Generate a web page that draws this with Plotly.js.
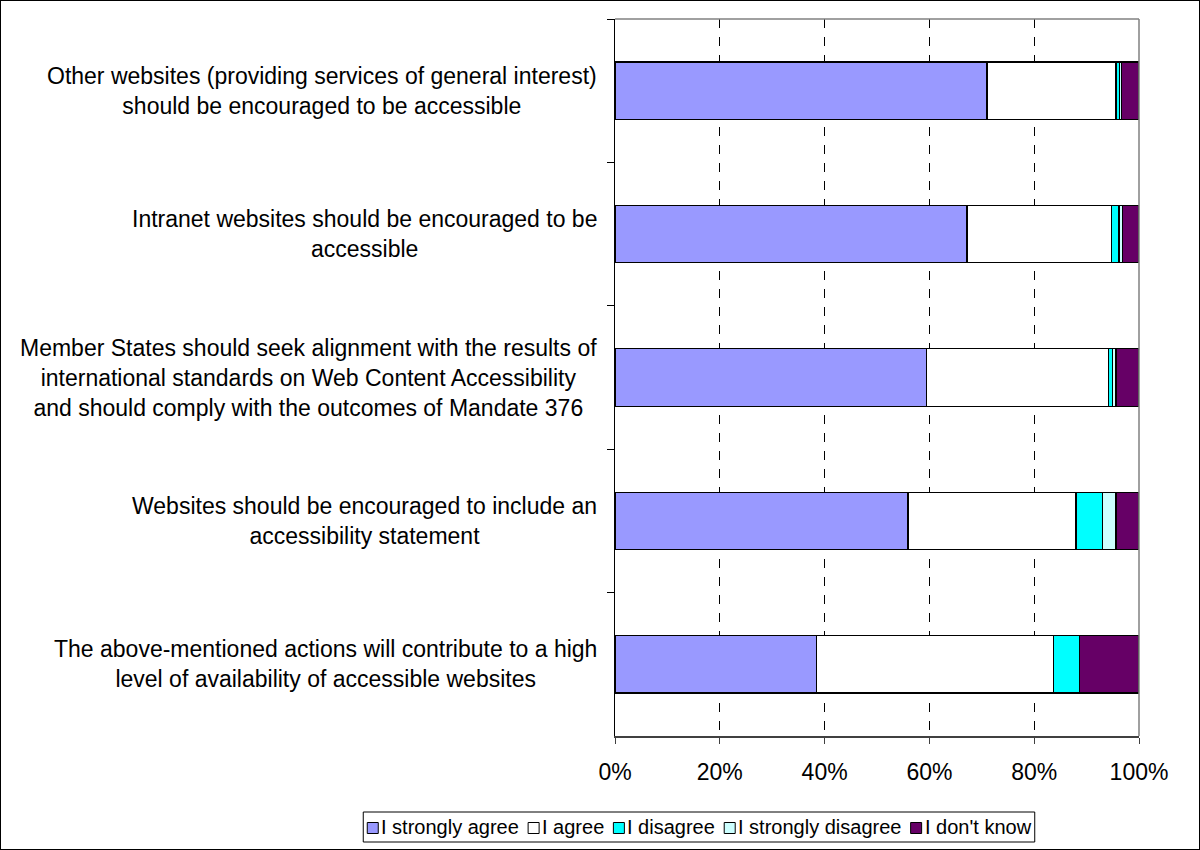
<!DOCTYPE html>
<html>
<head>
<meta charset="utf-8">
<script src="https://cdn.plot.ly/plotly-3.0.1.min.js"></script>
<style>
  html, body { margin: 0; padding: 0; background: #fff; }
  #wrap { position: relative; width: 1200px; height: 850px; }
  #chart { position: absolute; left: 0; top: 0; width: 1200px; height: 850px; }
  #frame { position: absolute; left: 0; top: 0; width: 1198px; height: 848px; border: 1px solid #000; pointer-events: none; }
</style>
</head>
<body>
<div id="wrap"><div id="chart"></div><div id="frame"></div></div>
<script>
// Categories, top to bottom as in the chart
const categories = [
  "Other websites (providing services of general interest)<br>should be encouraged to be accessible",
  "Intranet websites should be encouraged to be<br>accessible",
  "Member States should seek alignment with the results of<br>international standards on Web Content Accessibility<br>and should comply with the outcomes of Mandate 376",
  "Websites should be encouraged to include an<br>accessibility statement",
  "The above-mentioned actions will contribute to a high<br>level of availability of accessible websites"
];
const seriesNames = ["I strongly agree", "I agree", "I disagree", "I strongly disagree", "I don't know"];
const stronglyAgree    = [71.0, 67.2, 59.5, 55.9, 38.4];
const agree            = [24.6, 27.6, 34.7, 32.1, 45.3];
const disagree         = [0.7, 1.4, 0.8, 5.1, 4.9];
const stronglyDisagree = [0.4, 0.6, 0.6, 2.5, 0.0];
const dontKnow         = [3.3, 3.2, 4.4, 4.4, 11.4];
const tickVals = [0, 20, 40, 60, 80, 100];
const tickText = ["0%", "20%", "40%", "60%", "80%", "100%"];

const colors = ["#9999FF", "#FFFFFF", "#00FFFF", "#CCFFFF", "#660066"];
const values = [stronglyAgree, agree, disagree, stronglyDisagree, dontKnow];
const FONT = "Liberation Sans, Arial, sans-serif";

// Figure geometry (pixels)
const W = 1200, H = 850;
const M = { l: 615, r: 61, t: 19, b: 114 };
const plotW = W - M.l - M.r, plotH = H - M.t - M.b;
const px2x = px => (px - M.l) / plotW;
const py2y = py => (H - M.b - py) / plotH;

const traces = values.map((v, i) => ({
  type: "bar",
  orientation: "h",
  name: seriesNames[i],
  x: v,
  y: categories,
  marker: { color: colors[i], line: { color: "#000", width: 1.3 } },
  hoverinfo: "x+name"
}));

const annotations = categories.map(c => ({
  xref: "paper", yref: "y", x: 0, y: c,
  xanchor: "right", yanchor: "middle", xshift: -16,
  align: "center", showarrow: false, text: c,
  font: { family: FONT, size: 23, color: "#000" }
}));

const shapes = [
  { type: "line", xref: "paper", yref: "paper", x0: 0, x1: 1, y0: 1, y1: 1, line: { color: "#808080", width: 1.5 } },
  { type: "line", xref: "paper", yref: "paper", x0: 1, x1: 1, y0: 0, y1: 1, line: { color: "#808080", width: 1.5 } }
];

// Legend (Excel style: one row, small square keys, tight spacing)
const LEG_FS = 20, SQ = 11, SQ_GAP = 3, ITEM_GAP = 9, PAD = 4;
const LEG_TOP = 812, LEG_BOT = 842, LEG_CX = 699;
const ctx = document.createElement("canvas").getContext("2d");
ctx.font = LEG_FS + "px 'Liberation Sans'";
const textW = seriesNames.map(s => ctx.measureText(s).width);
let total = PAD * 2;
textW.forEach((w, i) => { total += SQ + SQ_GAP + w + (i < textW.length - 1 ? ITEM_GAP : 0); });
const legLeft = LEG_CX - total / 2;
shapes.push({ type: "rect", xref: "paper", yref: "paper",
  x0: px2x(legLeft), x1: px2x(legLeft + total), y0: py2y(LEG_BOT), y1: py2y(LEG_TOP),
  line: { color: "#000", width: 1 }, fillcolor: "#fff" });
const legMid = (LEG_TOP + LEG_BOT) / 2;
let cx = legLeft + PAD;
seriesNames.forEach((name, i) => {
  shapes.push({ type: "rect", xref: "paper", yref: "paper",
    x0: px2x(cx), x1: px2x(cx + SQ), y0: py2y(legMid + SQ / 2 + 1), y1: py2y(legMid - SQ / 2 + 1),
    line: { color: "#000", width: 1 }, fillcolor: colors[i] });
  cx += SQ + SQ_GAP;
  annotations.push({ xref: "paper", yref: "paper", x: px2x(cx - 1), y: py2y(legMid),
    xanchor: "left", yanchor: "middle", showarrow: false, text: name,
    borderpad: 0, font: { family: FONT, size: LEG_FS, color: "#000" } });
  cx += textW[i] + ITEM_GAP;
});

const layout = {
  width: W, height: H,
  margin: { l: M.l, r: M.r, t: M.t, b: M.b, autoexpand: false },
  paper_bgcolor: "#fff", plot_bgcolor: "#fff",
  barmode: "stack",
  bargap: 0.6,
  showlegend: false,
  font: { family: FONT, size: 22, color: "#000" },
  xaxis: {
    range: [0, 100], fixedrange: true,
    tickvals: tickVals, ticktext: tickText,
    showgrid: true, gridcolor: "#000", griddash: "dash", gridwidth: 1,
    zeroline: false,
    showline: true, linecolor: "#404040", linewidth: 2,
    ticks: "outside", ticklen: 6, tickcolor: "#404040", tickwidth: 1,
    ticklabelstandoff: 8,
    tickfont: { family: FONT, size: 23, color: "#000" }
  },
  yaxis: {
    type: "category", autorange: "reversed",
    tickson: "boundaries", ticks: "outside", ticklen: 7, tickcolor: "#000",
    showticklabels: false, showgrid: false, zeroline: false,
    showline: true, linecolor: "#000", linewidth: 1.5
  },
  shapes: shapes,
  annotations: annotations
};

Plotly.newPlot("chart", traces, layout, { displayModeBar: false, staticPlot: true });
</script>
</body>
</html>
